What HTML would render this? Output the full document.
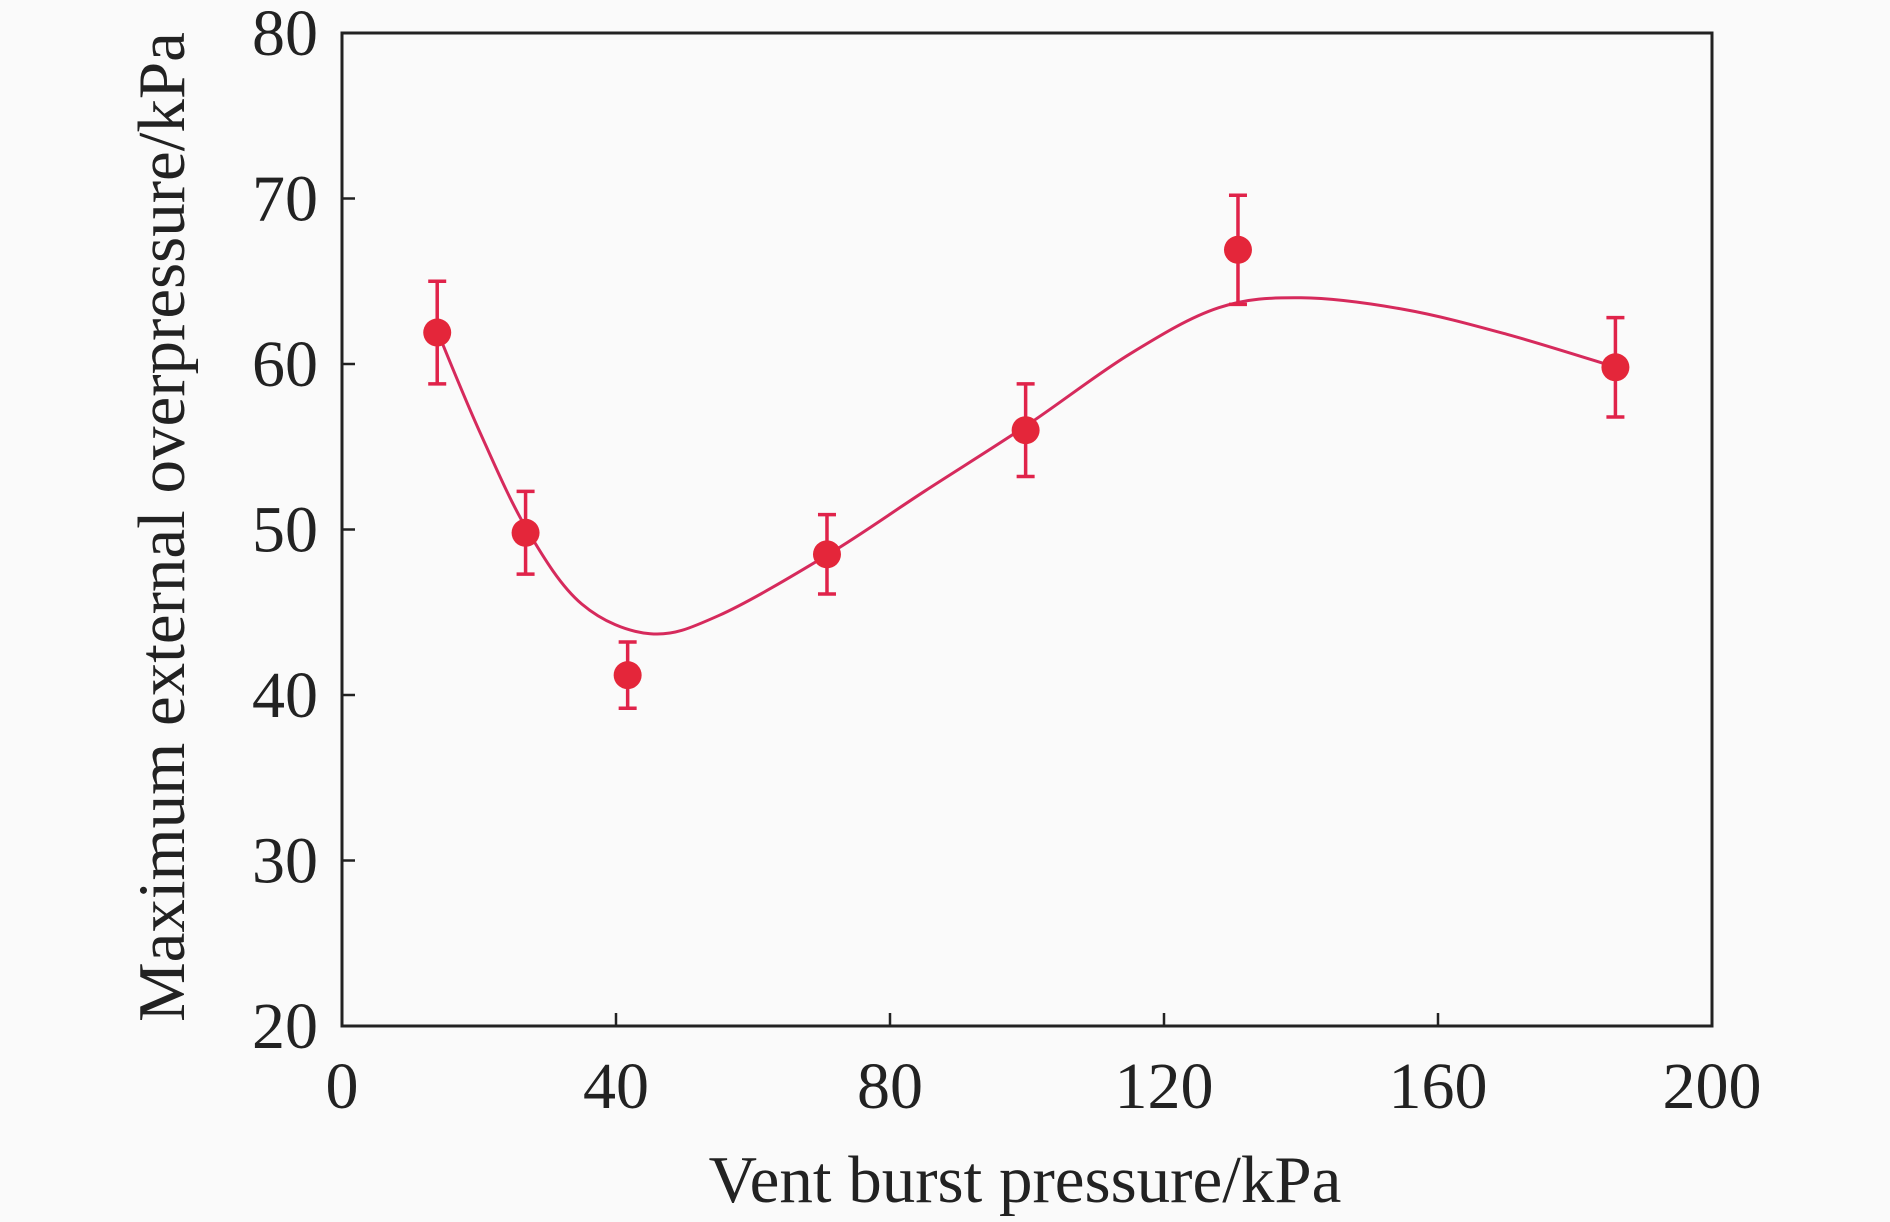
<!DOCTYPE html>
<html><head><meta charset="utf-8"><style>
html,body{margin:0;padding:0;background:#fafafa;}
svg{display:block;font-family:"Liberation Serif",serif;}
</style></head><body>
<svg id="chart" width="1890" height="1222" viewBox="0 0 1890 1222" xmlns="http://www.w3.org/2000/svg">
<rect x="0" y="0" width="1890" height="1222" fill="#fafafa"/>
<g id="plot"></g>
<text x="1025" y="1202" font-size="67" text-anchor="middle" fill="#222">Vent burst pressure/kPa</text>
<text transform="translate(184,527) rotate(-90)" font-size="67" text-anchor="middle" fill="#222">Maximum external overpressure/kPa</text>
</svg>
<script>
const xTicks=[0,40,80,120,160,200];
const yTicks=[20,30,40,50,60,70,80];
const ptX=[13.9,26.8,41.7,70.8,99.8,130.8,185.9];
const ptY=[61.9,49.8,41.2,48.5,56.0,66.9,59.8];
const ptErr=[3.1,2.5,2.0,2.4,2.8,3.3,3.0];
const fitX=[14,20,27,35,45,55,71,85,100,115,128,140,155,170,186];
const fitY=[61.9,56,50,45.5,43.7,44.8,48.5,52.3,56.3,60.6,63.4,64.0,63.3,61.8,59.8];

const L=342,R=1712,T=33,B=1026;
const sx=v=>L+(v-0)/(200-0)*(R-L);
const sy=v=>B-(v-20)/(80-20)*(B-T);
const NS='http://www.w3.org/2000/svg';
const g=document.getElementById('plot');
function mk(t,a){const e=document.createElementNS(NS,t);for(const k in a)e.setAttribute(k,a[k]);g.appendChild(e);return e;}

xTicks.forEach(v=>{
  if(v>0&&v<200){const t=mk('line',{x1:sx(v),x2:sx(v),y1:B,y2:B-13,stroke:'#222','stroke-width':2.5});
  
  }
  const l=mk('text',{x:sx(v),y:B+82,'font-size':66,'text-anchor':'middle',fill:'#222'});
  l.textContent=v;
  
  
});
yTicks.forEach(v=>{
  if(v>20&&v<80){const t=mk('line',{x1:L,x2:L+13,y1:sy(v),y2:sy(v),stroke:'#222','stroke-width':2.5});
  
  }
  const l=mk('text',{x:318,y:sy(v)+22,'font-size':66,'text-anchor':'end',fill:'#222'});
  l.textContent=v;
  
  
});

const P=fitX.map((x,i)=>[sx(x),sy(fitY[i])]);
let d='M'+P[0][0]+','+P[0][1];
for(let i=0;i<P.length-1;i++){
  const p0=P[i-1]||P[i],p1=P[i],p2=P[i+1],p3=P[i+2]||P[i+1];
  const c1=[p1[0]+(p2[0]-p0[0])/6,p1[1]+(p2[1]-p0[1])/6];
  const c2=[p2[0]-(p3[0]-p1[0])/6,p2[1]-(p3[1]-p1[1])/6];
  d+=' C'+c1[0]+','+c1[1]+' '+c2[0]+','+c2[1]+' '+p2[0]+','+p2[1];
}
const c=mk('path',{d:d,fill:'none',stroke:'#d62a5c','stroke-width':3});



ptX.forEach((x,i)=>{
  const X=sx(x),y1=sy(ptY[i]+ptErr[i]),y2=sy(ptY[i]-ptErr[i]);
  const eb=mk('path',{d:`M${X},${y1}V${y2}M${X-9},${y1}H${X+9}M${X-9},${y2}H${X+9}`,stroke:'#e0234a','stroke-width':3.5,fill:'none'});
  
  
  const m=mk('circle',{cx:X,cy:sy(ptY[i]),r:14,fill:'#e4263a'});
  
  
});

const fr=mk('rect',{x:L,y:T,width:R-L,height:B-T,fill:'none',stroke:'#222','stroke-width':3});


</script>
</body></html>
